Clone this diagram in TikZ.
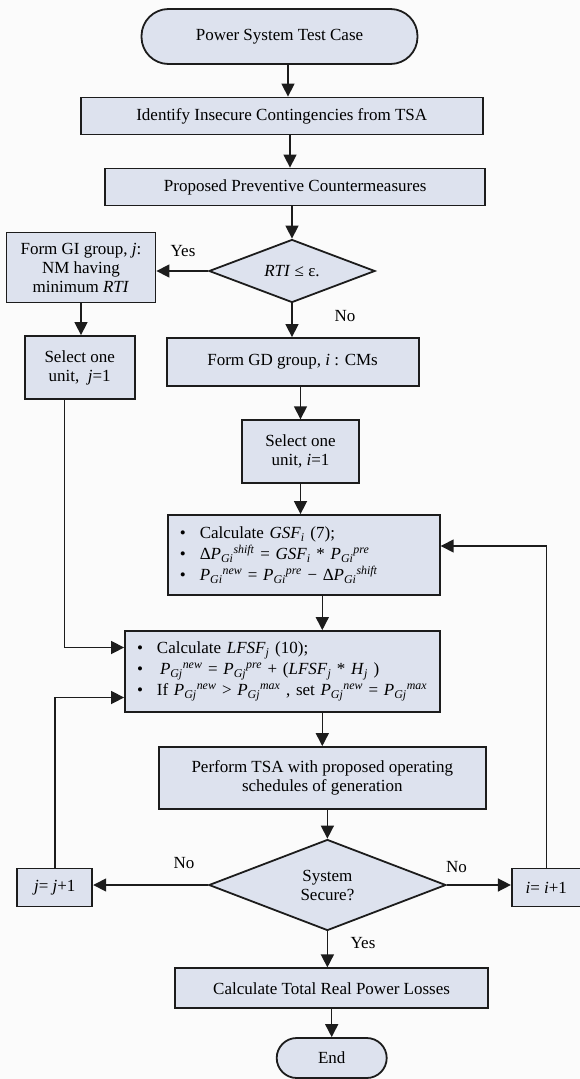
\documentclass[tikz,border=0pt]{standalone}
\usepackage{fontspec}
\setmainfont{Liberation Serif}
\usepackage{tikz}
\usetikzlibrary{arrows.meta,shapes.geometric}
\definecolor{boxfill}{RGB}{221,226,238}
\definecolor{pagebg}{RGB}{251,251,251}
\definecolor{inkline}{RGB}{28,28,28}
\newcommand{\Pg}[2]{\textit{P}\textsubscript{\textit{G#1}}\textsuperscript{\textit{#2}}}
\newcommand{\itsub}[2]{\textit{#1}\textsubscript{\textit{#2}}}
\newcommand{\bul}{\makebox[20pt][l]{\textbullet}}

\begin{document}
\begin{tikzpicture}[x=1pt,y=-1pt,font=\fontsize{17}{19}\selectfont,
    box/.style={draw=inkline,line width=1.8pt,fill=boxfill,inner sep=0pt,align=center},
    term/.style={box},
    decide/.style={box,diamond,aspect=2.6},
    bullets/.style={box,align=left,inner xsep=12pt,font=\fontsize{17}{21}\selectfont},
    arr/.style={-{Triangle[length=13pt,width=13pt]},line width=1.5pt,draw=inkline},
    lbl/.style={inner sep=0pt}]
    \fill[pagebg] (0,0) rectangle (580,1079);
    \useasboundingbox (0,0) rectangle (580,1079);

    \node[term,rounded corners=27pt,minimum width=276pt,minimum height=55pt] (start) at (279.5,36.5) {Power System Test Case};
    \node[box,minimum width=402pt,minimum height=37pt] (tsa) at (281.7,116) {Identify Insecure Contingencies from TSA};
    \node[box,minimum width=380pt,minimum height=37pt] (cm) at (295.2,187) {Proposed Preventive Countermeasures};
    \node[decide,minimum width=166pt,minimum height=63pt] (rti) at (292,271) {\textit{RTI} ≤ ε.};
    \node[box,minimum width=149pt,minimum height=70pt] (gi) at (81,267.5) {Form GI group, \textit{j}:\\NM having\\minimum \textit{RTI}};
    \node[box,minimum width=110pt,minimum height=63pt] (selj) at (79.7,367.5) {Select one\\unit,\ \ \textit{j}=1};
    \node[box,minimum width=252pt,minimum height=48pt] (gd) at (292.6,362) {Form GD group\textit{,} \textit{i} : CMs};
    \node[box,minimum width=117pt,minimum height=63pt] (seli) at (300.5,451.7) {Select one\\unit, \textit{i}=1};
    \node[bullets,text width=248pt,minimum height=80pt] (gsf) at (303.8,555) {\bul Calculate \itsub{GSF}{i} (7);\\
        \bul Δ\Pg{i}{shift} = \itsub{GSF}{i} * \Pg{i}{pre}\\
        \bul \Pg{i}{new} = \Pg{i}{pre} − Δ\Pg{i}{shift}};
    \node[bullets,text width=291pt,minimum height=81pt] (lfsf) at (282.5,671.5) {\bul Calculate \itsub{LFSF}{j} (10);\\
        \bul \hspace{3pt}\Pg{j}{new} = \Pg{j}{pre} + (\itsub{LFSF}{j} * \itsub{H}{j} )\\
        \bul If \Pg{j}{new} > \Pg{j}{max} , set \Pg{j}{new} = \Pg{j}{max}};
    \node[box,minimum width=327pt,minimum height=62pt] (tsa2) at (322.3,778) {Perform TSA with proposed operating\\schedules of generation};
    \node[decide,minimum width=237pt,minimum height=91pt] (secure) at (327.4,885) {System\\Secure?};
    \node[box,minimum width=75pt,minimum height=38pt] (jinc) at (54.8,887.5) {\textit{j}= \textit{j}+1};
    \node[box,minimum width=69pt,minimum height=38pt] (iinc) at (546.3,887.5) {\textit{i}= \textit{i}+1};
    \node[box,minimum width=313pt,minimum height=40pt] (loss) at (331.6,988.3) {Calculate Total Real Power Losses};
    \node[term,rounded corners=20pt,minimum width=110pt,minimum height=40pt] (stop) at (331.7,1058) {End};

    \node[lbl] (yes1) at (183,251) {Yes};
    \node[lbl] (no1) at (345,316) {No};
    \node[lbl] (no2) at (184,863) {No};
    \node[lbl] (no3) at (456.5,867) {No};
    \node[lbl] (yes2) at (363,943) {Yes};

    \draw[arr] ([xshift=8.5pt]start.south) -- ([xshift=8.5pt]start.south |- tsa.north);
    \draw[arr] ([xshift=8.3pt]tsa.south) -- ([xshift=8.3pt]tsa.south |- cm.north);
    \draw[arr] (cm.south -| rti) -- (rti.north);
    \draw[arr] (rti.west) -- (rti.west -| gi.east);
    \draw[arr] (gi.south) -- (gi.south |- selj.north);
    \draw[arr] (rti.south) -- (rti.south |- gd.north);
    \draw[arr] (gd.south -| seli) -- (seli.north);
    \draw[arr] (seli.south) -- (seli.south |- gsf.north);
    \draw[arr] (gsf.south -| tsa2) -- (lfsf.north -| tsa2);
    \draw[arr] (lfsf.south -| tsa2) -- (tsa2.north);
    \draw[arr] (tsa2.south -| secure) -- (secure.north);
    \draw[arr] (secure.south) -- (secure.south |- loss.north);
    \draw[arr] (loss.south -| stop) -- (stop.north);
    \draw[arr] (secure.west) -- (secure.west -| jinc.east);
    \draw[arr] (secure.east) -- (secure.east -| iinc.west);
    \draw[arr] ([xshift=-15pt]selj.south) |- ([yshift=24pt]lfsf.west);
    \draw[arr] (jinc.north) |- ([yshift=-26pt]lfsf.west);
    \draw[arr] (iinc.north) |- ([yshift=9pt]gsf.east);
\end{tikzpicture}
\end{document}
